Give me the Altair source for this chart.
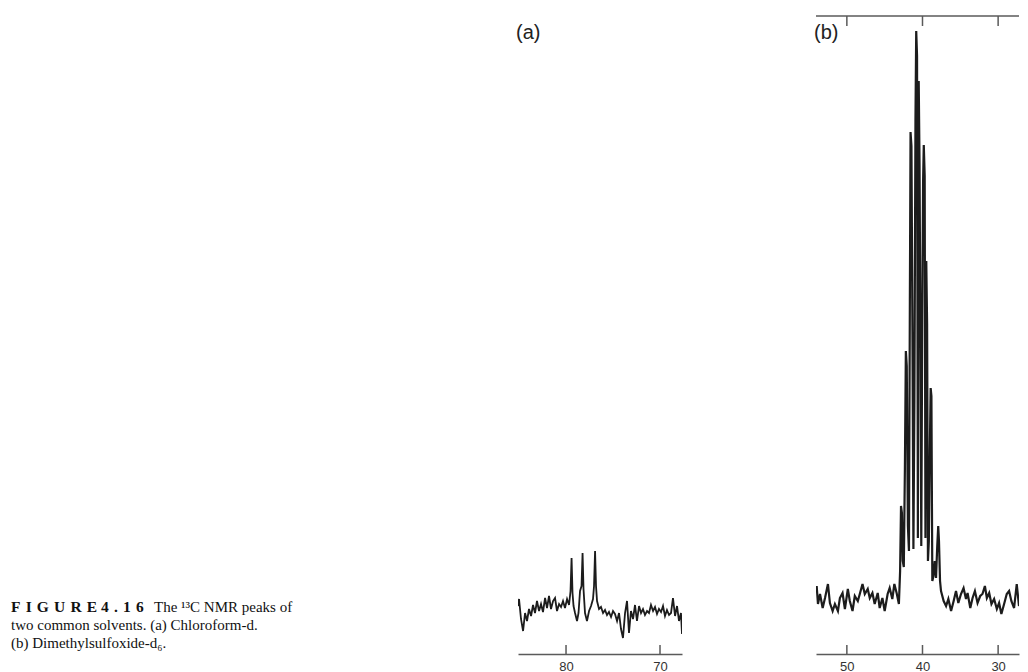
import altair as alt
import pandas as pd

# ---------------- data ----------------
# (a) Chloroform-d : chemical shift (ppm) and intensity (arbitrary units)
A_PPM = [85.11, 85.00, 84.79, 84.57, 84.36, 84.15, 83.94, 83.72, 83.51, 83.30,
         83.09, 82.87, 82.66, 82.45, 82.23, 82.02, 81.81, 81.60, 81.38, 81.17,
         80.96, 80.74, 80.53, 80.32, 80.11, 79.89, 79.68, 79.52, 79.41, 79.31,
         79.20, 79.04, 78.83, 78.67, 78.51, 78.35, 78.24, 78.14, 77.98, 77.77,
         77.55, 77.34, 77.13, 77.02, 76.91, 76.81, 76.70, 76.49, 76.28, 76.06,
         75.85, 75.64, 75.43, 75.21, 75.00, 74.79, 74.57, 74.36, 74.15, 73.94,
         73.72, 73.51, 73.30, 73.09, 72.87, 72.66, 72.45, 72.23, 72.02, 71.81,
         71.60, 71.38, 71.17, 70.96, 70.74, 70.53, 70.32, 70.11, 69.89, 69.68,
         69.47, 69.26, 69.04, 68.83, 68.62, 68.40, 68.19, 67.98, 67.77, 67.66]
A_INT = [48, 55, 35, 23, 41, 33, 45, 38, 49, 41,
         53, 43, 50, 42, 56, 46, 58, 45, 53, 56,
         43, 50, 47, 53, 46, 55, 49, 63, 96, 61,
         48, 41, 33, 41, 63, 68, 101, 65, 41, 33,
         43, 48, 55, 68, 103, 68, 53, 45, 47, 41,
         44, 39, 42, 37, 43, 40, 33, 41, 25, 16,
         41, 53, 21, 43, 35, 49, 33, 48, 41, 45,
         39, 43, 41, 49, 43, 47, 40, 45, 42, 48,
         38, 44, 39, 41, 56, 38, 48, 33, 41, 20]

# (b) Dimethylsulfoxide-d6
B_PPM = [53.99, 53.82, 53.55, 53.20, 52.89, 52.50, 52.24, 51.88, 51.58, 51.18,
         50.92, 50.57, 50.26, 49.87, 49.61, 49.25, 48.95, 48.55, 48.29, 47.93,
         47.63, 47.24, 46.97, 46.62, 46.32, 45.92, 45.66, 45.30, 45.00, 44.61,
         44.34, 43.99, 43.72, 43.42, 43.12,
         42.96, 42.84, 42.72, 42.61, 42.47, 42.33, 42.20, 42.08, 41.93, 41.79,
         41.67, 41.58, 41.46, 41.33, 41.20, 41.07, 40.93, 40.83, 40.72, 40.61,
         40.50, 40.39, 40.28, 40.16, 40.03, 39.92, 39.83, 39.71, 39.61, 39.50,
         39.39, 39.28, 39.16, 39.03, 38.92, 38.82, 38.70, 38.55, 38.38, 38.21,
         38.05, 37.92, 37.82, 37.68, 37.55,
         37.20, 36.88, 36.58, 36.22, 35.88, 35.57, 35.26, 34.91, 34.57, 34.25,
         34.04, 33.68, 33.38, 33.07, 32.72, 32.37, 32.07, 31.75, 31.49, 31.18,
         30.88, 30.53, 30.17, 29.87, 29.57, 29.21, 28.86, 28.55, 28.25, 27.89,
         27.54, 27.24, 26.93, 26.58, 26.22]
B_INT = [68, 50, 60, 46, 56, 70, 51, 43, 50, 43,
         56, 61, 45, 65, 53, 43, 58, 53, 60, 70,
         60, 65, 56, 61, 50, 61, 46, 56, 43, 60,
         66, 55, 70, 61, 50,
         83, 148, 141, 93, 87, 183, 303, 288, 128, 103,
         353, 522, 508, 323, 105, 253, 533, 623, 598, 116,
         573, 490, 323, 108, 340, 473, 509, 478, 116, 393,
         330, 93, 113, 203, 266, 258, 73, 78, 93, 76,
         108, 128, 113, 73, 63,
         53, 48, 55, 43, 53, 63, 51, 60, 66, 55,
         61, 46, 56, 63, 51, 58, 60, 68, 56, 61,
         50, 55, 45, 51, 40, 50, 60, 63, 53, 46,
         70, 48, 56, 46, 60]

A_TICKS = [80, 70]
B_TICKS = [50, 40, 30]
A_DOMAIN = [67.66, 85.11]
B_DOMAIN = [27.24, 54.08]
Y_DOMAIN = [0, 638]

CAPTION_BOLD = "F\u200a I\u200a G\u200a U\u200a R\u200a E   4\u200a .\u200a 1\u200a 6"
CAPTION_L1 = "The \u00b9\u00b3C NMR peaks of"
CAPTION_L2 = "two common solvents. (a) Chloroform-d."
CAPTION_L3 = "(b) Dimethylsulfoxide-d\u2086."
LABEL_A = "(a)"
LABEL_B = "(b)"

# ---------------- styling ----------------
H = 638
LINE_COLOR = "#1c1c1c"
AXIS_COLOR = "#5a5a5a"
SANS = "Liberation Sans"
SERIF = "Liberation Serif"


def panel(ppm, inten, ticks, domain, width, label, top_line, lw):
    df = pd.DataFrame({"ppm": ppm, "i": inten})
    xscale = alt.Scale(domain=domain, reverse=True, nice=False, zero=False)
    yscale = alt.Scale(domain=Y_DOMAIN, nice=False, zero=False)
    xaxis = alt.Axis(values=ticks, title=None, grid=False, ticks=False, tickSize=0,
                     domain=True, domainColor=AXIS_COLOR, domainWidth=1.5,
                     labelFont=SANS, labelFontSize=13, labelColor="#333333",
                     labelPadding=6, format="d", labelFlush=False)
    spec = alt.Chart(df).mark_line(color=LINE_COLOR, strokeWidth=lw, clip=True,
                                   strokeJoin="miter").encode(
        x=alt.X("ppm:Q", scale=xscale, axis=xaxis),
        y=alt.Y("i:Q", scale=yscale, axis=None),
    )
    tdf = pd.DataFrame({"t": ticks})
    bticks = alt.Chart(tdf).mark_rule(color=AXIS_COLOR, strokeWidth=1.5).encode(
        x=alt.X("t:Q", scale=xscale, axis=xaxis),
        y=alt.value(H), y2=alt.value(H - 9),
    )
    layers = [spec, bticks]
    if top_line:
        ldf = pd.DataFrame({"x0": [domain[1]], "x1": [domain[0]]})
        tline = alt.Chart(ldf).mark_rule(color=AXIS_COLOR, strokeWidth=1.5).encode(
            x=alt.X("x0:Q", scale=xscale, axis=xaxis), x2="x1:Q", y=alt.value(0),
        )
        tticks = alt.Chart(tdf).mark_rule(color=AXIS_COLOR, strokeWidth=1.5).encode(
            x=alt.X("t:Q", scale=xscale, axis=xaxis),
            y=alt.value(0), y2=alt.value(10),
        )
        layers += [tline, tticks]
    lab = alt.Chart(pd.DataFrame({"s": [label]})).mark_text(
        font=SANS, fontSize=20, color="#222222", align="left", baseline="alphabetic"
    ).encode(text="s:N", x=alt.value(-2), y=alt.value(23))
    layers.append(lab)
    return alt.layer(*layers).properties(width=width, height=H)


cap_df = pd.DataFrame({"b": [CAPTION_BOLD], "l1": [CAPTION_L1], "l2": [CAPTION_L2], "l3": [CAPTION_L3]})
cap_base = alt.Chart(cap_df)
FS = 15
cap = alt.layer(
    cap_base.mark_text(font=SERIF, fontSize=FS + 0.5, fontWeight="bold", color="#111111",
                       align="left", baseline="alphabetic").encode(
        text="b:N", x=alt.value(3), y=alt.value(596)),
    cap_base.mark_text(font=SERIF, fontSize=FS, color="#111111",
                       align="left", baseline="alphabetic").encode(
        text="l1:N", x=alt.value(146), y=alt.value(596)),
    cap_base.mark_text(font=SERIF, fontSize=FS, color="#111111",
                       align="left", baseline="alphabetic").encode(
        text="l2:N", x=alt.value(3), y=alt.value(614)),
    cap_base.mark_text(font=SERIF, fontSize=FS, color="#111111",
                       align="left", baseline="alphabetic").encode(
        text="l3:N", x=alt.value(3), y=alt.value(632)),
).properties(width=376, height=H)

pa = panel(A_PPM, A_INT, A_TICKS, A_DOMAIN, 164, LABEL_A, False, 1.8)
pb = panel(B_PPM, B_INT, B_TICKS, B_DOMAIN, 203, LABEL_B, True, 2.2)

chart = alt.hconcat(cap, pa, pb, spacing=134, bounds="flush").properties(
    padding={"left": 0, "top": 7, "right": 0, "bottom": 0}
).configure(
    background="white",
    view=alt.ViewConfig(stroke="transparent", strokeWidth=0),
)

chart.save("out.html", embed_options={"renderer": "svg", "actions": False})
